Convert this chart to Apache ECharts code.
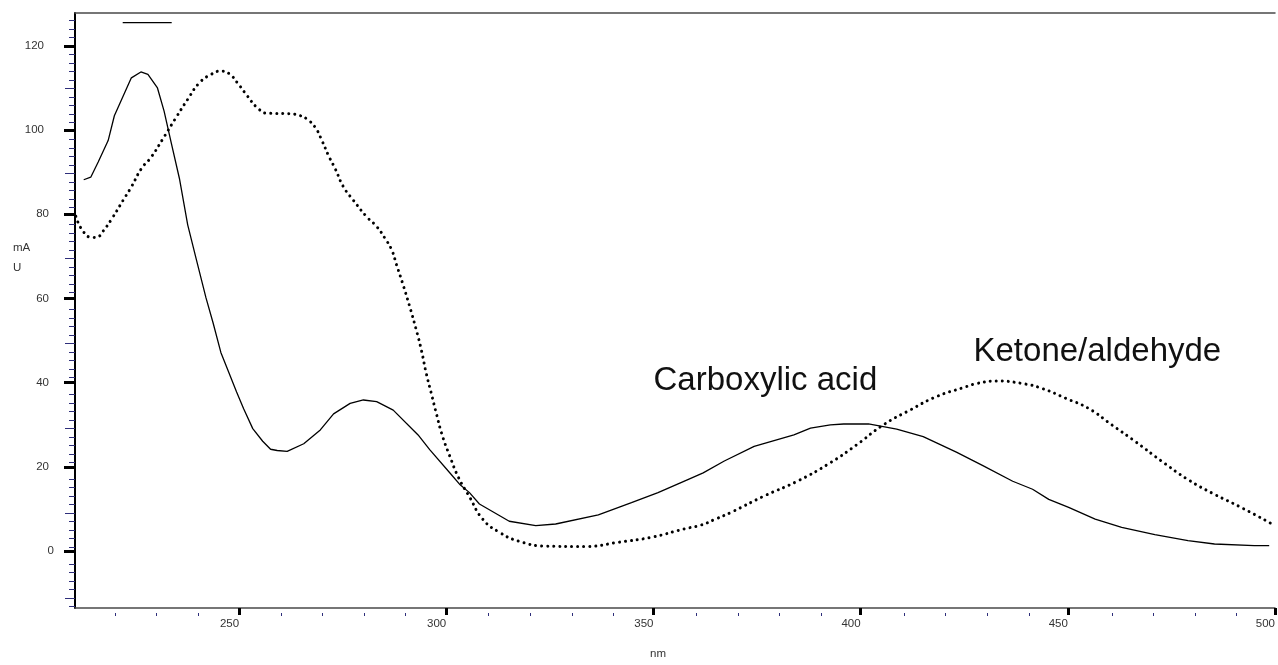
<!DOCTYPE html>
<html>
<head>
<meta charset="utf-8">
<script src="https://cdn.jsdelivr.net/npm/echarts@6/dist/echarts.min.js"></script>
<style>
html,body{margin:0;padding:0;background:#fff;}
#chart{width:1278px;height:665px;}
</style>
</head>
<body>
<div id="chart"></div>
<script>
// ---- data ----
const acidNm  = [212.5,214.2,216.0,218.4,219.9,224.0,226.3,228.0,230.3,231.9,233.6,235.6,237.6,239.6,242.0,243.7,245.6,247.5,249.4,251.1,253.3,255.7,257.6,259.2,261.6,265.6,269.6,272.8,276.8,280.0,283.2,287.2,293.2,296.0,301.2,303.2,305.6,308.0,315.2,321.6,326.4,336.7,344.7,351.1,358.3,362.0,367.1,374.3,383.9,387.9,392.7,395.9,401.9,408.7,415.1,423.1,429.5,436.7,441.5,445.4,450.2,456.6,463.0,471.0,479.0,485.4,495.0,498.6];
const acidAbs = [88.2,88.8,92.4,97.5,103.4,112.4,113.8,113.2,110.0,104.5,97.1,88.5,77.5,69.6,60.2,54.3,47.2,42.5,37.8,33.8,29.1,26.1,24.2,23.9,23.7,25.5,28.8,32.6,35.1,35.9,35.5,33.5,27.6,24.1,18.2,15.9,13.9,11.2,7.1,6.05,6.45,8.6,11.5,13.9,17.0,18.6,21.4,24.9,27.6,29.2,30.0,30.2,30.2,29.0,27.2,23.5,20.3,16.6,14.7,12.3,10.4,7.6,5.65,3.9,2.5,1.7,1.3,1.3];

const ketoNm  = [210.6,212.4,214.6,216.0,217.2,219.2,222.0,224.0,226.4,228.8,231.6,234.8,237.6,240.4,243.2,245.6,247.6,249.6,252.0,254.4,256.8,262.0,264.8,266.4,268.4,270.0,271.6,273.2,275.2,277.6,280.8,283.2,285.2,286.8,288.0,289.4,291.2,292.8,294.0,295.2,296.4,297.6,299.0,300.8,303.0,305.6,308.8,312.8,317.6,324.0,333.5,341.5,349.5,357.5,361.5,364.7,368.7,376.7,384.7,392.7,399.1,405.5,411.9,418.3,424.7,428.0,432.7,439.1,443.9,449.5,455.0,460.6,466.2,472.6,479.0,485.4,491.8,499.2];
const ketoAbs = [79.5,75.9,74.5,74.7,76.0,78.8,83.3,86.5,90.8,93.6,97.9,103.0,107.3,111.2,113.2,114.0,113.4,111.2,108.1,105.3,104.0,103.9,103.4,102.6,100.6,97.5,93.9,90.8,86.5,83.3,79.4,77.1,74.3,71.6,68.0,63.8,58.0,52.4,47.7,42.1,37.4,32.7,27.6,22.7,17.4,12.9,7.6,4.5,2.35,1.2,1.1,2.1,3.3,5.3,6.2,7.5,9.2,13.1,16.6,21.0,25.3,30.0,33.5,36.7,38.8,39.8,40.4,39.8,38.6,36.3,33.9,30.0,26.1,21.4,17.0,13.5,10.4,6.5];

// ---- tick values ----
const nmMajorTicks = [250,300,350,400,450,500];
const nmMinorTicks = [220,230,240,260,270,280,290,310,320,330,340,360,370,380,390,410,420,430,440,460,470,480,490];
const absMajorTicks = [0,20,40,60,80,100,120];
const absMidTicks = [-10,10,30,50,70,90,110];
const absMinorTicks = [-12,-8,-6,-4,-2,2,4,6,8,12,14,16,18,22,24,26,28,32,34,36,38,42,44,46,48,52,54,56,58,62,64,66,68,72,74,76,78,82,84,86,88,92,94,96,98,102,104,106,108,112,114,116,118,122,124,126];

const X_MIN = 210.4, X_MAX = 500, Y_MIN = -13.5, Y_MAX = 127.8;
const FONT = "'Liberation Sans', Arial, sans-serif";
const NAVY = '#2e2e7a';

function zip(a, b) { return a.map((v, i) => [v, b[i]]); }

const gridBox = {left: 75, top: 13, width: 1205.5, height: 600};

const chart = echarts.init(document.getElementById('chart'));
const hiddenLabel = {show: false};
chart.setOption({
  animation: false,
  backgroundColor: '#fff',
  grid: [Object.assign({}, gridBox), Object.assign({}, gridBox), Object.assign({}, gridBox)],
  legend: {
    data: [{name: 'Carboxylic acid', icon: 'rect'}],
    left: 122.7, top: 22, padding: 0, itemGap: 0,
    itemWidth: 49, itemHeight: 1.3,
    itemStyle: {color: '#000'},
    formatter: () => '',
    selectedMode: false
  },
  xAxis: [
    {
      type: 'value', gridIndex: 0, position: 'bottom', min: X_MIN, max: X_MAX,
      name: 'nm', nameLocation: 'middle', nameGap: 40,
      nameTextStyle: {fontFamily: FONT, fontSize: 11.5, color: '#333', padding: [0, 34, 0, 0]},
      axisLine: {show: true, onZero: false, lineStyle: {color: '#4a4a4a', width: 1.5}},
      axisTick: {show: true, customValues: nmMajorTicks, length: 7, lineStyle: {color: '#000', width: 3}},
      axisLabel: {show: true, customValues: nmMajorTicks, align: 'right', margin: 10,
        fontFamily: FONT, fontSize: 11.5, color: '#333', hideOverlap: false, showMaxLabel: true, showMinLabel: true},
      splitLine: {show: false}
    },
    {
      type: 'value', gridIndex: 0, position: 'top', min: X_MIN, max: X_MAX,
      axisLine: {show: true, onZero: false, lineStyle: {color: '#4a4a4a', width: 1.5}},
      axisTick: {show: false}, axisLabel: hiddenLabel, splitLine: {show: false}
    },
    {
      type: 'value', gridIndex: 1, position: 'bottom', min: X_MIN, max: X_MAX,
      axisLine: {show: false, onZero: false},
      axisTick: {show: true, customValues: nmMinorTicks, length: 3, lineStyle: {color: NAVY, width: 1}},
      axisLabel: hiddenLabel, splitLine: {show: false}
    },
    {
      type: 'value', gridIndex: 2, position: 'bottom', min: X_MIN, max: X_MAX, show: false,
      axisLine: {onZero: false}
    }
  ],
  yAxis: [
    {
      type: 'value', gridIndex: 0, position: 'left', min: Y_MIN, max: Y_MAX,
      axisLine: {show: true, onZero: false, lineStyle: {color: '#000', width: 2}},
      axisTick: {show: true, customValues: absMajorTicks, length: 11, lineStyle: {color: '#000', width: 3}},
      axisLabel: {
        show: true, customValues: absMajorTicks, margin: 21,
        fontFamily: FONT, fontSize: 11.5, color: '#333',
        formatter: v => { const s = String(v); return '{p' + s.length + '|' + s + '}'; },
        rich: {
          p1: {fontFamily: FONT, fontSize: 11.5, color: '#333', padding: [0, 0, 0, 0]},
          p2: {fontFamily: FONT, fontSize: 11.5, color: '#333', padding: [0, 5, 0, 0]},
          p3: {fontFamily: FONT, fontSize: 11.5, color: '#333', padding: [0, 10, 0, 0]}
        }
      },
      splitLine: {show: false}
    },
    {
      type: 'value', gridIndex: 1, position: 'left', min: Y_MIN, max: Y_MAX,
      axisLine: {show: false, onZero: false},
      axisTick: {show: true, customValues: absMinorTicks, length: 6, lineStyle: {color: NAVY, width: 1}},
      axisLabel: hiddenLabel, splitLine: {show: false}
    },
    {
      type: 'value', gridIndex: 2, position: 'left', min: Y_MIN, max: Y_MAX,
      axisLine: {show: false, onZero: false},
      axisTick: {show: true, customValues: absMidTicks, length: 10, lineStyle: {color: NAVY, width: 1}},
      axisLabel: hiddenLabel, splitLine: {show: false}
    }
  ],
  series: [
    {
      name: 'Carboxylic acid', type: 'line', xAxisIndex: 0, yAxisIndex: 0,
      data: zip(acidNm, acidAbs), showSymbol: false, symbol: 'none', smooth: false,
      lineStyle: {color: '#000', width: 1.3}, itemStyle: {color: '#000'}
    },
    {
      name: 'Ketone/aldehyde', type: 'line', xAxisIndex: 0, yAxisIndex: 0,
      data: zip(ketoNm, ketoAbs), showSymbol: false, symbol: 'none', smooth: true,
      lineStyle: {color: '#000', width: 3, type: [0.01, 6], cap: 'round'}, itemStyle: {color: '#000'}
    }
  ],
  graphic: [
    {type: 'text', x: 13, y: 238, silent: true,
      style: {text: 'mA\nU', fontFamily: FONT, fontSize: 11.5, lineHeight: 20, fill: '#333', align: 'left', verticalAlign: 'top'}},
    {type: 'text', x: 653.5, y: 380.5, silent: true,
      style: {text: 'Carboxylic acid', fontFamily: FONT, fontSize: 33, fill: '#111', align: 'left', verticalAlign: 'middle'}},
    {type: 'text', x: 973.5, y: 352.1, silent: true,
      style: {text: 'Ketone/aldehyde', fontFamily: FONT, fontSize: 33, fill: '#111', align: 'left', verticalAlign: 'middle'}}
  ]
});
</script>
</body>
</html>
